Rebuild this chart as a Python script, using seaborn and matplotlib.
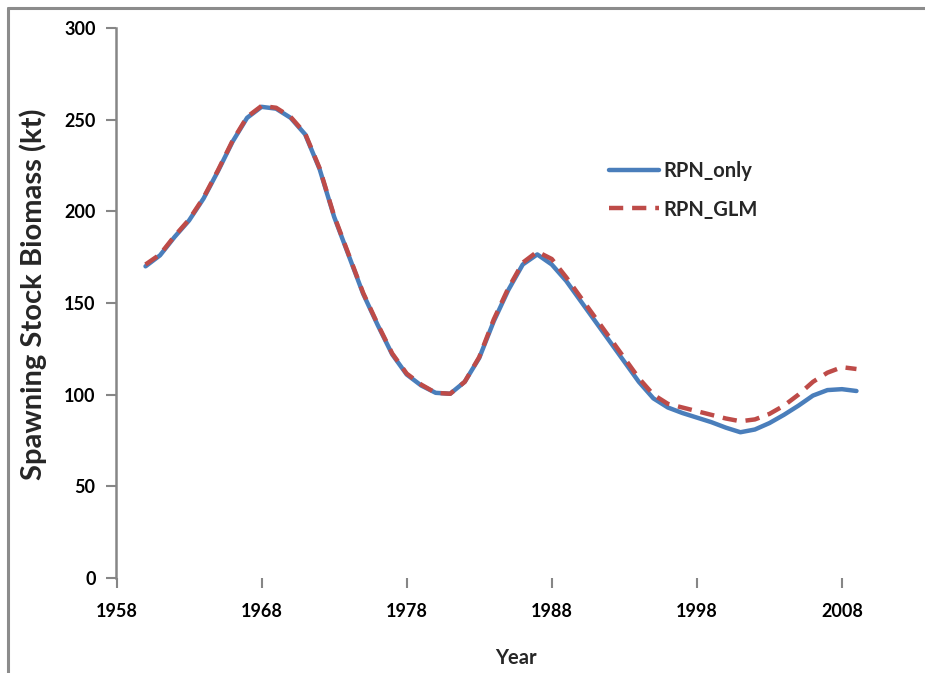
import numpy as np
import pandas as pd
import matplotlib
matplotlib.use("Agg")
import matplotlib.pyplot as plt
from matplotlib.lines import Line2D
import seaborn as sns

years = list(range(1960, 2010))
rpn_only = [170, 176, 186, 195, 207, 222, 238, 251, 257, 256,
            251, 242, 223, 197, 176, 155, 138, 122, 111, 105,
            101, 100.5, 107, 120, 140, 157, 171, 176.5, 171, 162,
            151, 140, 129, 118, 107, 98, 93, 90, 87.5, 85,
            82, 79.5, 81, 84.5, 89, 94, 99.5, 102.5, 103, 102]
rpn_glm = [171, 176.5, 186.5, 195.5, 207.5, 222.5, 238.5, 251.5, 257.5, 256.5,
           251.5, 242.5, 223.5, 197.5, 176.5, 155.5, 138.5, 122.5, 111.5, 105.5,
           101, 100.5, 107, 120.5, 141, 158, 172, 178, 174, 164,
           153, 142, 131, 120, 109, 100, 95, 93, 91, 89,
           87, 85.5, 86.5, 89.5, 94, 100, 107, 112, 115, 114]
series_names = ["RPN_only", "RPN_GLM"]
x_ticks = [1958, 1968, 1978, 1988, 1998, 2008]
y_ticks = [0, 50, 100, 150, 200, 250, 300]

df = pd.DataFrame({
    "Year": years * 2,
    "SSB": rpn_only + rpn_glm,
    "Series": [series_names[0]] * len(years) + [series_names[1]] * len(years),
})

sns.set_theme(style="white")
plt.rcParams["font.family"] = ["Lato", "DejaVu Sans"]

fig = plt.figure(figsize=(9.25, 6.73), dpi=100)
ax = fig.add_axes([116.5 / 925, 1 - 578 / 673, (914.5 - 116.5) / 925, (578 - 28) / 673])

palette = {"RPN_only": "#4a7ebb", "RPN_GLM": "#be4b48"}
dashes = {"RPN_only": "", "RPN_GLM": (3.2, 2.0)}
sns.lineplot(data=df, x="Year", y="SSB", hue="Series", style="Series",
             palette=palette, dashes=dashes, linewidth=3.2, ax=ax,
             hue_order=series_names, style_order=series_names)
for ln in ax.lines:
    ln.set_solid_joinstyle("round")
    ln.set_dash_joinstyle("round")

ax.set_xlim(1958, 2013)
ax.set_ylim(0, 300)
ax.set_xticks(x_ticks)
ax.set_yticks(y_ticks)
ax.set_xticklabels([str(t) for t in x_ticks], fontsize=13, fontweight="bold")
ax.set_yticklabels([str(t) for t in y_ticks], fontsize=13, fontweight="bold")

for s in ["top", "right", "bottom"]:
    ax.spines[s].set_visible(False)
ax.spines["left"].set_color("#868686")
ax.spines["left"].set_linewidth(1.8)
ax.tick_params(axis="both", which="both", direction="out", color="#868686",
               width=1.5, length=7, labelcolor="black", bottom=True, left=True)
ax.tick_params(axis="x", pad=11)
ax.tick_params(axis="y", pad=8)

ax.set_xlabel("Year", fontsize=14.5, fontweight="bold", labelpad=20)
ax.set_ylabel("Spawning Stock Biomass (kt)", fontsize=21, fontweight="bold")
ax.yaxis.set_label_coords((47 - 116.5) / 798, 0.515)

leg = ax.legend(loc="upper left", bbox_to_anchor=(609 / 925, 1 - 161 / 673),
                bbox_transform=fig.transFigure, frameon=False, fontsize=14.5,
                handlelength=2.5, handletextpad=0.2, labelspacing=0.92,
                borderpad=0.0, borderaxespad=0.0)
for t in leg.get_texts():
    t.set_fontweight("bold")

fig.add_artist(Line2D([8 / 925, 8 / 925], [0, 1 - 8 / 673], transform=fig.transFigure,
                      color="#8c8c8c", linewidth=2.2))
fig.add_artist(Line2D([8 / 925, 1], [1 - 8 / 673, 1 - 8 / 673], transform=fig.transFigure,
                      color="#8c8c8c", linewidth=2.2))

fig.savefig("out.png", dpi=100)
